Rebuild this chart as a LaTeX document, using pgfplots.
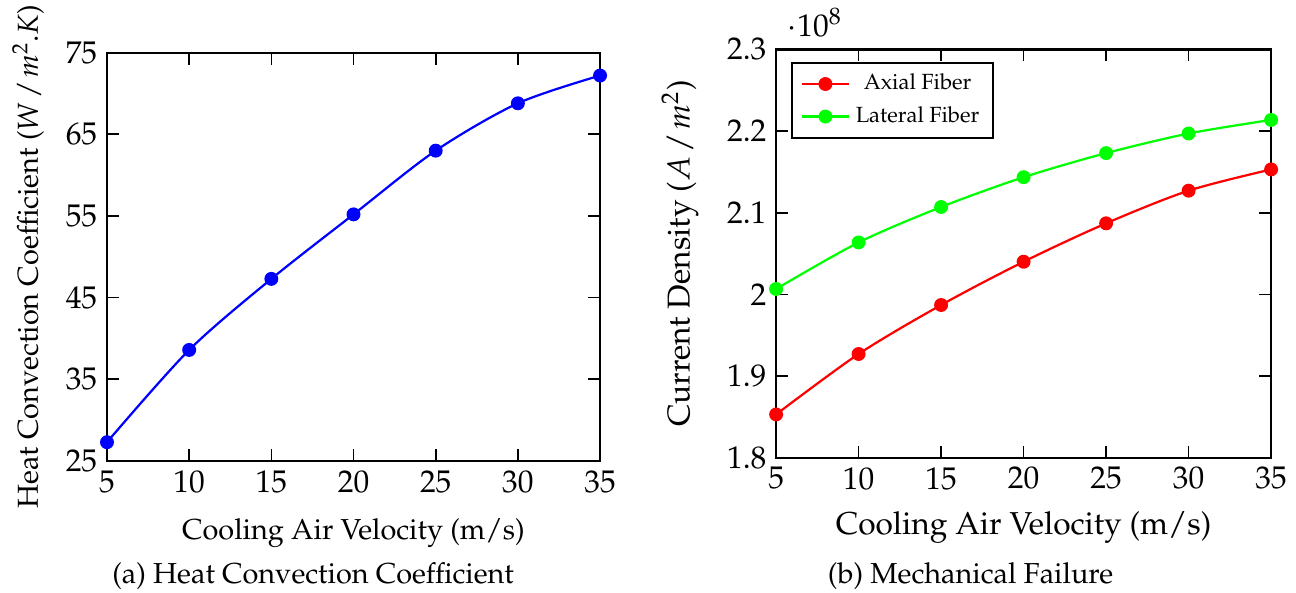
\documentclass[border=0pt]{standalone}
\usepackage[T1]{fontenc}
\usepackage{mathpazo}
\usepackage{pgfplots}
\pgfplotsset{compat=1.18}
\definecolor{mygreen}{RGB}{0,255,0}
\begin{document}
\begin{tikzpicture}
\useasboundingbox (0pt,0pt) rectangle (466.56pt,213.48pt);
\pgfplotsset{
  myaxis/.style={
    scale only axis,
    anchor=south west,
    axis line style={line width=0.8pt},
    tick style={black, line width=0.6pt},
    tick label style={font=\fontsize{11.3}{13}\selectfont},
    label style={font=\fontsize{10.4}{12}\selectfont},
    xmin=5, xmax=35, xtick={5,10,15,20,25,30,35},
    every axis plot/.append style={line width=0.8pt, mark=*, mark size=2.1pt, smooth},
  }
}
\begin{axis}[myaxis, at={(38.52pt,47.52pt)}, width=177.5pt, height=147pt,
  ymin=25, ymax=75, ytick={25,35,45,55,65,75},
  xlabel={Cooling Air Velocity (m/s)},
  ylabel={Heat Convection Coefficient ($W\mkern2mu/\mkern2mu m^2.K$)},
  xlabel style={at={(axis description cs:0.5,-0.176)}, anchor=center},
  ylabel style={at={(axis description cs:-0.160,0.5)}, anchor=center, font=\fontsize{10.4}{12}\selectfont}]
\addplot[blue, mark options={fill=blue, draw=blue}] coordinates {(5,27.3)(10,38.6)(15,47.3)(20,55.2)(25,63.0)(30,68.8)(35,72.2)};
\end{axis}
\begin{axis}[myaxis, at={(279.4pt,48.7pt)}, width=178.2pt, height=147pt,
  ymin=1.8e8, ymax=2.3e8, ytick={1.8e8,1.9e8,2.0e8,2.1e8,2.2e8,2.3e8},
  xlabel={Cooling Air Velocity (m/s)},
  ylabel={Current Density ($A\mkern2mu/\mkern2mu m^2$)},
  xlabel style={at={(axis description cs:0.5,-0.171)}, anchor=center, font=\fontsize{11.4}{13}\selectfont},
  ylabel style={at={(axis description cs:-0.194,0.5)}, anchor=center, font=\fontsize{11.4}{13}\selectfont},
  every y tick scale label/.style={at={(axis description cs:0.022,1.03)}, anchor=south west, inner sep=0pt, font=\fontsize{11.3}{13}\selectfont},
  legend style={at={(0.031,0.969)}, anchor=north west, font=\fontsize{7.9}{9}\selectfont, draw=black, line width=0.6pt, row sep=0.5pt},
  legend cell align=center]
\addplot[red, mark options={fill=red, draw=red}] coordinates {(5,1.853e8)(10,1.927e8)(15,1.987e8)(20,2.040e8)(25,2.087e8)(30,2.127e8)(35,2.153e8)};
\addlegendentry{Axial Fiber}
\addplot[mygreen, mark options={fill=mygreen, draw=mygreen}] coordinates {(5,2.0066e8)(10,2.0636e8)(15,2.107e8)(20,2.1435e8)(25,2.173e8)(30,2.197e8)(35,2.2136e8)};
\addlegendentry{Lateral Fiber}
\end{axis}
\node[font=\fontsize{10.4}{12}\selectfont] at (112.7pt,6.2pt) {(a) Heat Convection Coefficient};
\node[font=\fontsize{10.4}{12}\selectfont] at (349.4pt,6.2pt) {(b) Mechanical Failure};
\end{tikzpicture}
\end{document}
